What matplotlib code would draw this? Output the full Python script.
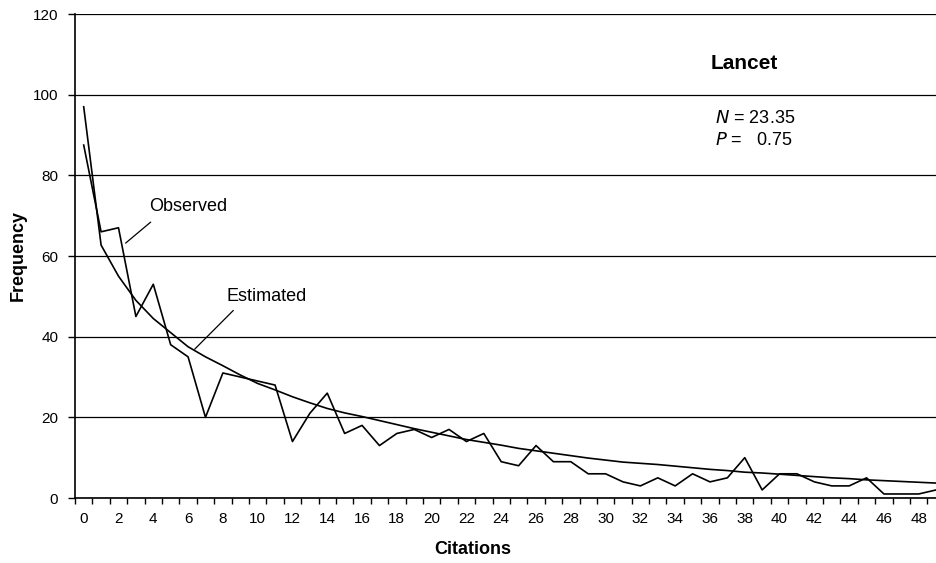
import numpy as np
import matplotlib
matplotlib.use('Agg')
import matplotlib.pyplot as plt

plt.rcParams['font.family'] = ['Liberation Sans', 'DejaVu Sans']

# citations 0..49
citations = list(range(50))

observed = [87.5, 66, 67, 45, 53, 38, 35, 20, 31, 30,
            29, 28, 14, 21, 26, 16, 18, 13, 16, 17,
            15, 17, 14, 16, 9, 8, 13, 9, 9, 6,
            6, 4, 3, 5, 3, 6, 4, 5, 10, 2,
            6, 6, 4, 3, 3, 5, 1, 1, 1, 2]

estimated = [97, 62.7, 55, 49, 44.5, 41, 37.5, 35, 32.8, 30.5,
             28.4, 26.8, 25.1, 23.6, 22.2, 21.1, 20.2, 19.2, 18.2, 17.2,
             16.3, 15.4, 14.5, 13.8, 13.1, 12.3, 11.7, 11.1, 10.5, 9.9,
             9.4, 8.9, 8.6, 8.3, 7.9, 7.5, 7.1, 6.8, 6.4, 6.2,
             5.9, 5.6, 5.3, 5.0, 4.8, 4.5, 4.3, 4.1, 3.9, 3.7]

y_ticks = [0, 20, 40, 60, 80, 100, 120]
x_labels = [str(c) for c in citations[::2]]

fig = plt.figure(figsize=(9.37, 5.63), dpi=100)
ax = fig.add_axes([75 / 937, 65 / 563, (937 - 75) / 937, 484 / 563])

ax.set_axisbelow(True)
ax.plot(citations, observed, color='black', lw=1.2)
ax.plot(citations, estimated, color='black', lw=1.2)

ax.set_xlim(-0.5, 49.05)
ax.set_ylim(0, 120)
ax.set_yticks(y_ticks)
ax.yaxis.grid(True, color='black', lw=0.9)

ax.set_xticks(citations[::2])
ax.set_xticklabels(x_labels)
ax.set_xticks(np.arange(-0.5, 49.5, 1), minor=True)
ax.tick_params(axis='x', which='major', length=0, pad=10, labelsize=11)
ax.tick_params(axis='x', which='minor', length=4, width=1, direction='out')
ax.tick_params(axis='y', length=5, width=1, pad=7, labelsize=11)

for s in ['top', 'right']:
    ax.spines[s].set_visible(False)
ax.spines['left'].set_linewidth(1.2)
ax.spines['bottom'].set_linewidth(1.2)

ax.set_xlabel('Citations', fontsize=13, fontweight='bold', va='center')
ax.xaxis.set_label_coords(398 / 862, -0.107)
ax.set_ylabel('Frequency', fontsize=13, fontweight='bold', va='center')
ax.yaxis.set_label_coords(-0.066, 0.502)

# annotations with leader lines
ax.text(6.0, 70.1, 'Observed', fontsize=13, ha='center', va='bottom')
ax.annotate('', xy=(2.41, 63.2), xytext=(3.85, 68.4),
            arrowprops=dict(arrowstyle='-', color='black', lw=0.9,
                            shrinkA=0, shrinkB=0))
ax.text(10.5, 47.75, 'Estimated', fontsize=13, ha='center', va='bottom')
ax.annotate('', xy=(6.38, 36.9), xytext=(8.6, 46.5),
            arrowprops=dict(arrowstyle='-', color='black', lw=0.9,
                            shrinkA=0, shrinkB=0))

ax.text(38.0, 107.7, 'Lancet', fontsize=15, fontweight='bold',
        ha='center', va='center')
ax.text(36.3, 94.0, r'$\it{N}$ = 23.35', fontsize=13, ha='left', va='center')
ax.text(36.3, 88.6, r'$\it{P}$ =   0.75', fontsize=13, ha='left', va='center')

fig.savefig('out.png', dpi=100)
